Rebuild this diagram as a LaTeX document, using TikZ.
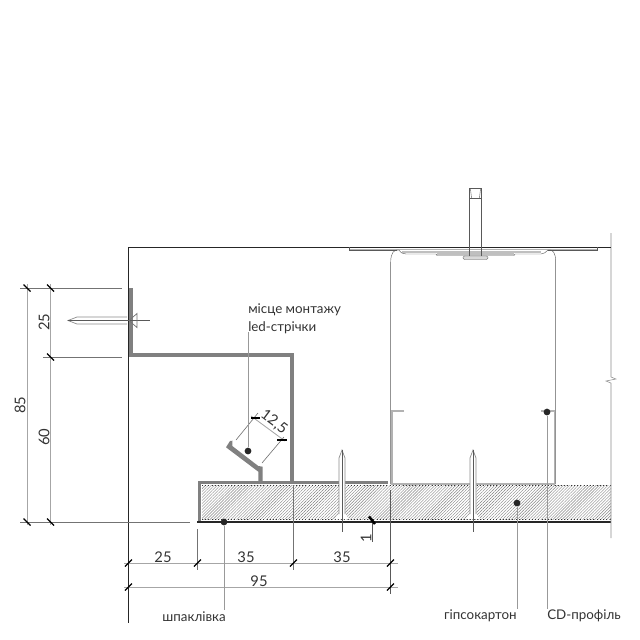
\documentclass[tikz,border=0pt]{standalone}
\usepackage{fontspec}
\setmainfont{Lato}
\usetikzlibrary{patterns.meta}

\tikzset{
  thinline/.style={line width=.3pt, draw=black!65},
  leaderline/.style={line width=.5pt, draw=black!40},
  extline/.style={line width=.45pt, draw=black!55},
  dimline/.style={line width=.6pt, draw=black!35},
  tickmark/.style={line width=.9pt, draw=black},
  profile/.style={line width=2.7pt, draw=black!50, line join=miter},
  cdprofile/.style={line width=1pt, draw=black!30},
  dotmark/.style={circle, fill=black!85, inner sep=0pt, minimum size=4.8pt},
  dimtext/.style={font=\fontsize{10.5}{12}\selectfont, text=black!80, inner sep=0pt},
  labeltext/.style={font=\fontsize{9.5}{11}\selectfont, text=black!80, inner sep=0pt}
}

\begin{document}
\begin{tikzpicture}[x=0.025cm, y=-0.025cm]
  \useasboundingbox (0,0) rectangle (640,640);
  % gypsum board
  \path[pattern={Lines[angle=45, distance=1.5pt, line width=.3pt]}, pattern color=black!50] (202,485) rectangle (611,519);
  \draw[line width=.3pt, dotted, black!80] (202,485) -- (611,485) (202,519) -- (611,519);
  \draw[line width=.8pt, black!85] (197,522) -- (611,522);
  % wall and ceiling
  \draw[line width=.6pt, black!85] (128.5,247) -- (128.5,623);
  \draw[line width=.4pt, draw=black!45] (611,233) -- (611,377) -- (616,379) -- (606,381) -- (611,383) -- (611,538);
  % hanger plate and bolt
  \draw[line width=.6pt, black!30] (349,249.3) -- (597,249.3);
  \draw[line width=.9pt, black!25] (402,252) -- (541,252) (437,254) -- (514,254);
  \draw[line width=.7pt, black!85] (128.5,247) -- (611,247);
  \draw[thinline] (349,247) -- (349,250.5) -- (397,250.5)
    (597,247) -- (597,250.5) -- (548,250.5);
  \draw[thinline] (390.7,484) -- (390.7,262) .. controls (390.7,253) and (394,249) .. (399,250)
    .. controls (401,253) and (403,254) .. (406,254) -- (436,254) -- (437,255.5) -- (514,255.5) -- (515,254) -- (541,254)
    .. controls (544,254) and (546,252) .. (548,250)
    .. controls (553,249) and (555.7,253) .. (555.7,262) -- (555.7,484);
  \draw[thinline, fill=black!15, rounded corners=1pt] (463,256) rectangle (488,259.5);
  \draw[thinline] (469.5,256) -- (469.5,198) -- (481.5,198) -- (481.5,256);
  \draw[thinline] (469.5,198) -- (469.5,188) -- (481.5,188) -- (481.5,198);
  \draw[thinline] (470.5,189) -- (471.5,198) (480.5,189) -- (479.5,198);
  % CD profile
  \draw[cdprofile] (404,411) -- (392,411) -- (392,484) -- (554.5,484) -- (554.5,411) -- (541,411);
  % aluminium profile
  \draw[profile] (131,288) -- (131,355) -- (292,355) -- (292,482.5);
  \draw[profile] (388,482.5) -- (199.5,482.5) -- (199.5,521);
  \fill[black!50] (226,447.3) -- (230,441) -- (232.5,440.7) -- (232.3,446) -- (258.3,466) -- (262.7,466.7) -- (262.7,481)
    -- (258.3,481) -- (258.3,471.7) -- cycle;
  % screws
  \foreach \scrx/\scrtop in {342/450, 473/450}{
    \fill[white] (\scrx-3,\scrtop+8) -- (\scrx,\scrtop) -- (\scrx+3,\scrtop+8) -- (\scrx+3,513) -- (\scrx+7,519) -- (\scrx-7,519) -- (\scrx-3,513) -- cycle;
    \draw[line width=.5pt, black!45] (\scrx-3,514) -- (\scrx-3,\scrtop+8) -- (\scrx,\scrtop) -- (\scrx+3,\scrtop+8) -- (\scrx+3,514);
    \draw[thinline] (\scrx,\scrtop) -- (\scrx,532);
  }
  \draw[line width=.5pt, black!45] (77,317) -- (127,317) (77,324) -- (127,324) (77,317) -- (68,320.5) -- (77,324);
  \draw[thinline] (68,320.5) -- (150,320.5);
  \draw[line width=.5pt, black!55] (129,320.5) -- (137,313.5) -- (137,327.5) -- cycle;
  % dimension lines
  \draw[dimline] (27,284) -- (27,525) (50.5,284) -- (50.5,525);
  \draw[extline] (20,288) -- (122,288) (43,357) -- (122,357) (20,522) -- (190,522);
  \draw[dimline] (124,563) -- (398,563) (124,587) -- (398,587);
  \draw[extline] (197.5,529) -- (197.5,570) (293.5,485) -- (293.5,570);
  \draw[thinline] (390.5,490) -- (390.5,594);
  \draw[thinline] (372.5,520) -- (372.5,542);
  \foreach \tickx/\ticky in {27/288, 50.5/288, 50.5/357, 27/522, 50.5/522}
    \draw[tickmark] (\tickx-3.5,\ticky-3.5) -- (\tickx+3.5,\ticky+3.5);
  \foreach \tickx/\ticky in {128.5/563, 197.5/563, 293.5/563, 390.5/563, 128.5/587, 390.5/587}
    \draw[tickmark] (\tickx-3.5,\ticky+3.5) -- (\tickx+3.5,\ticky-3.5);
  \draw[line width=1.8pt, black] (369,516.5) -- (375,524);
  % 12,5 dimension
  \draw[extline] (236,440) -- (258,413) (262,463) -- (284,437);
  \draw[dimline] (251,416) -- (285,441);
  \draw[tickmark] (251,418) -- (260,418) (277,440) -- (287,440);
  % Nodes
  \node[dimtext, rotate=90] (dimA) at (20,405) {85};
  \node[dimtext, rotate=90] (dimB) at (44,322) {25};
  \node[dimtext, rotate=90] (dimC) at (44,437) {60};
  \node[dimtext] (dimD) at (163,557) {25};
  \node[dimtext] (dimE) at (246,557) {35};
  \node[dimtext] (dimF) at (342,557) {35};
  \node[dimtext] (dimG) at (259,581) {95};
  \node[dimtext, rotate=-37] (dimH) at (274,422) {12,5};
  \node[dimtext, rotate=90] (dimI) at (366,538) {1};
  \node[labeltext, anchor=west] (ledA) at (248,310) {місце монтажу};
  \node[labeltext, anchor=north west] (ledB) at (248,321) {led-стрічки};
  \node[labeltext, anchor=north east] (putty) at (226,611) {шпаклівка};
  \node[labeltext, anchor=north east] (board) at (517,609) {гіпсокартон};
  \node[labeltext, anchor=north west] (cd) at (547,609) {CD-профіль};
  \node[dotmark] (dotled) at (248,451) {};
  \node[dotmark] (dotputty) at (224,522) {};
  \node[dotmark] (dotboard) at (517,503) {};
  \node[dotmark] (dotcd) at (547,412) {};
  % Edges
  \draw[leaderline] (dotled) -- (248,332);
  \draw[leaderline] (dotputty) -- (224,610);
  \draw[leaderline] (dotboard) -- (517,609);
  \draw[leaderline] (dotcd) -- (547,609);
\end{tikzpicture}
\end{document}
